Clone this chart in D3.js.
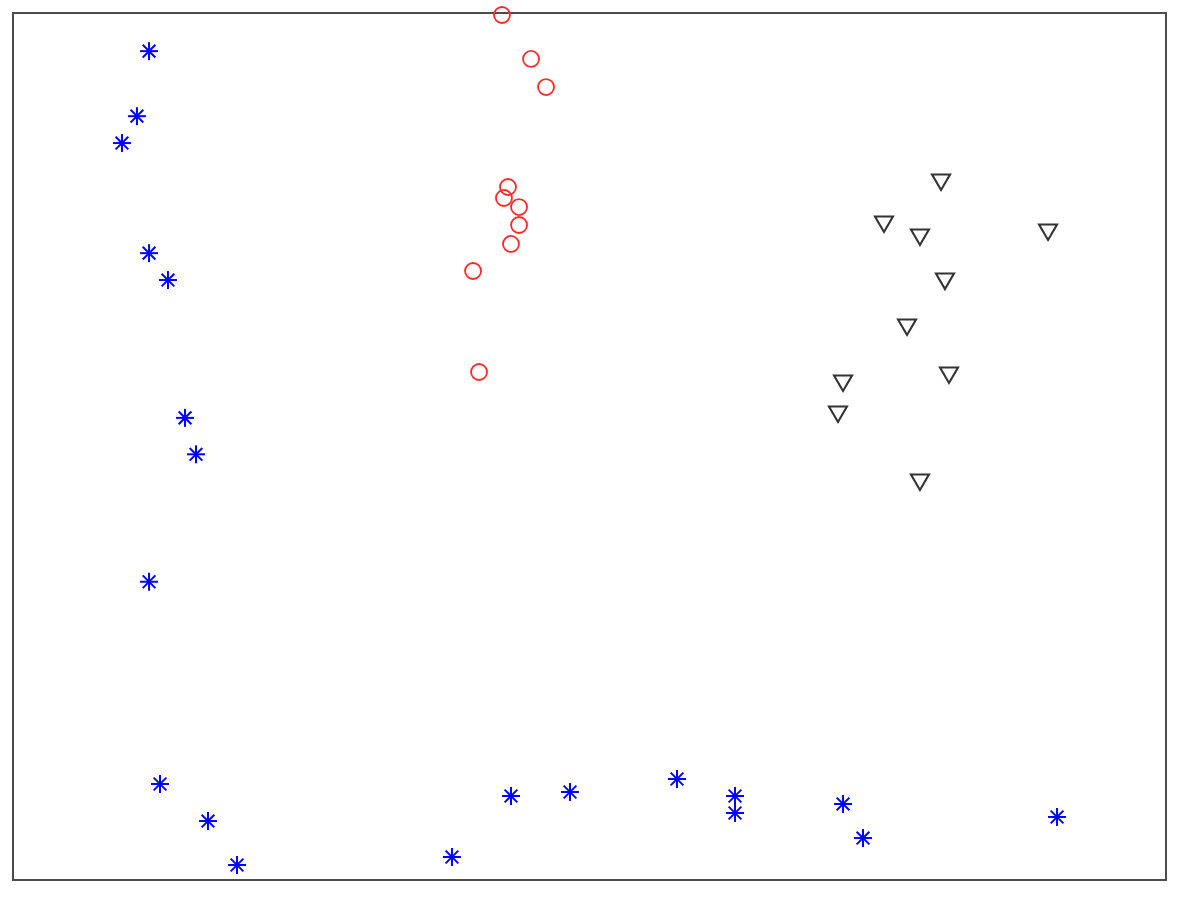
<!DOCTYPE html>
<html><head><meta charset="utf-8">
<script src="https://cdn.jsdelivr.net/npm/d3@7"></script>
<style>html,body{margin:0;padding:0;background:#fff;}</style>
</head><body>
<svg id="chart" width="1181" height="899"></svg>
<script>
const blueX = [0.118,0.1075,0.0945,0.118,0.1344,0.1492,0.1587,0.118,0.1275,0.1691,0.1943,0.3807,0.4319,0.4831,0.5759,0.6262,0.6262,0.7199,0.7372,0.9055];
const blueY = [0.956,0.881,0.850,0.723,0.692,0.533,0.491,0.344,0.1107,0.068,0.0173,0.0265,0.0969,0.1015,0.1165,0.0969,0.0773,0.0877,0.0484,0.0727];
const redX = [0.4241,0.4493,0.4623,0.4293,0.4258,0.4389,0.4389,0.4319,0.399,0.4042];
const redY = [0.9977,0.947,0.9146,0.7993,0.7866,0.7762,0.7555,0.7336,0.7024,0.5859];
const triX = [0.8049,0.7554,0.7866,0.8977,0.8083,0.7754,0.7199,0.8118,0.7155,0.7866];
const triY = [0.8062,0.7578,0.7428,0.7486,0.692,0.639,0.5744,0.5836,0.5386,0.4602];

const svg = d3.select("#chart");
const L = 13, R = 1166, T = 13, B = 880;
const x = d3.scaleLinear().domain([0,1]).range([L,R]);
const y = d3.scaleLinear().domain([0,1]).range([B,T]);

svg.append("rect").attr("x",L).attr("y",T).attr("width",R-L).attr("height",B-T)
  .attr("fill","none").attr("stroke","#444").attr("stroke-width",1.9);

const blue = blueX.map((v,i)=>[v,blueY[i]]);
const red = redX.map((v,i)=>[v,redY[i]]);
const tri = triX.map((v,i)=>[v,triY[i]]);

const ast = svg.append("g").selectAll("g").data(blue).join("g")
  .attr("transform",d=>`translate(${x(d[0])},${y(d[1])})`);
const r = 9, dd = r*0.7071;
[[0,-r,0,r],[-r,0,r,0],[-dd,-dd,dd,dd],[-dd,dd,dd,-dd]].forEach(s=>{
  ast.append("line").attr("x1",s[0]).attr("y1",s[1]).attr("x2",s[2]).attr("y2",s[3])
    .attr("stroke","#0000ff").attr("stroke-width",2);
});

svg.append("g").selectAll("circle").data(red).join("circle")
  .attr("cx",d=>x(d[0])).attr("cy",d=>y(d[1])).attr("r",8)
  .attr("fill","none").attr("stroke","#ff2a2a").attr("stroke-width",1.8);

svg.append("g").selectAll("path").data(tri).join("path")
  .attr("transform",d=>`translate(${x(d[0])},${y(d[1])})`)
  .attr("d","M-9,-6.5 L9,-6.5 L0,9 Z")
  .attr("fill","none").attr("stroke","#333").attr("stroke-width",2.1).attr("stroke-linejoin","miter");
</script>
</body></html>
